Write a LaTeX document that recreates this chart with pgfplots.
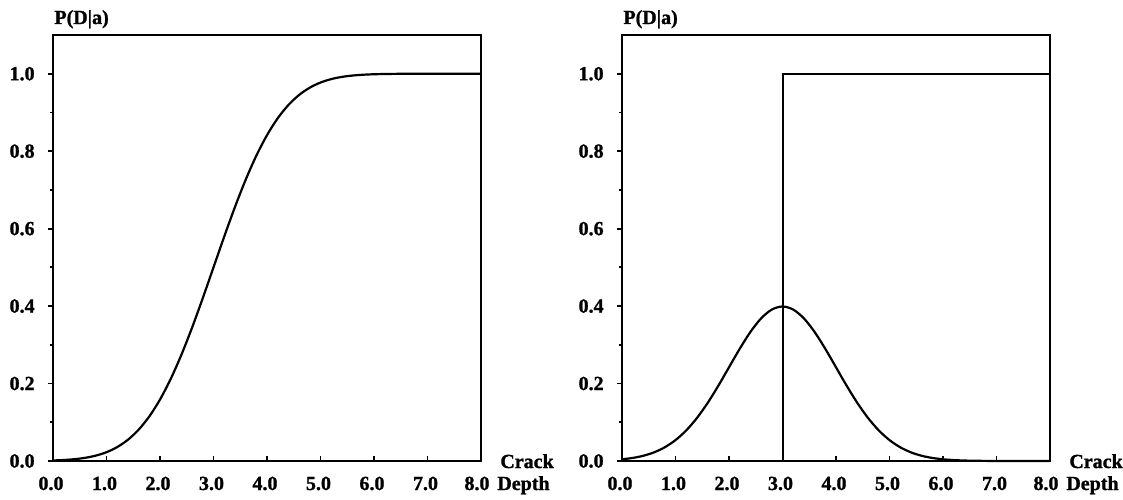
\documentclass[border=0pt]{standalone}
\usepackage{fontspec}
\setmainfont{Liberation Serif}[BoldFeatures={FakeBold=1.2}]
\usepackage{pgfplots}
\pgfplotsset{compat=1.18}

\pgfplotstableread{
x y
0.0 0.00135
0.2 0.00256
0.4 0.00466
0.6 0.00820
0.8 0.01390
1.0 0.02275
1.2 0.03593
1.4 0.05480
1.6 0.08076
1.8 0.11507
2.0 0.15866
2.2 0.21186
2.4 0.27425
2.6 0.34458
2.8 0.42074
3.0 0.50000
3.2 0.57926
3.4 0.65542
3.6 0.72575
3.8 0.78814
4.0 0.84134
4.2 0.88493
4.4 0.91924
4.6 0.94520
4.8 0.96407
5.0 0.97725
5.2 0.98610
5.4 0.99180
5.6 0.99534
5.8 0.99744
6.0 0.99865
6.2 0.99931
6.4 0.99966
6.6 0.99984
6.8 0.99993
7.0 0.99997
7.5 1.00000
8.0 1.00000
}\cdftable

\pgfplotstableread{
x y
0.0 0.00443
0.2 0.00792
0.4 0.01358
0.6 0.02239
0.8 0.03547
1.0 0.05399
1.2 0.07895
1.4 0.11092
1.6 0.14973
1.8 0.19419
2.0 0.24197
2.2 0.28969
2.4 0.33322
2.6 0.36827
2.8 0.39104
3.0 0.39894
3.2 0.39104
3.4 0.36827
3.6 0.33322
3.8 0.28969
4.0 0.24197
4.2 0.19419
4.4 0.14973
4.6 0.11092
4.8 0.07895
5.0 0.05399
5.2 0.03547
5.4 0.02239
5.6 0.01358
5.8 0.00792
6.0 0.00443
6.2 0.00238
6.4 0.00123
6.6 0.00061
6.8 0.00029
7.0 0.00013
7.5 0.00002
8.0 0.00000
}\pdftable

\pgfplotstableread{
x y
3.0 0.0
3.0 1.0
8.0 1.0
8.0 0.0
}\steptable

\newcommand\lblfont{\fontsize{10}{12}\selectfont\bfseries}

\pgfplotsset{
  panel/.style={
    scale only axis,
    width=214pt, height=213pt,
    anchor=south west,
    xmin=0, xmax=8, ymin=0, ymax=1.1,
    axis line style={line width=1.2pt},
    xtick={0,1,...,7},
    xticklabels={0.0,1.0,2.0,3.0,4.0,5.0,6.0,7.0},
    extra x ticks={8},
    extra x tick labels={8.0},
    extra x tick style={xticklabel style={xshift=-1pt}},
    ytick={0,0.2,0.4,0.6,0.8,1.0},
    yticklabels={0.0,0.2,0.4,0.6,0.8,1.0},
    minor y tick num=1,
    xtick pos=bottom, ytick pos=left,
    tick align=inside,
    major tick length=2.5pt,
    minor tick length=1.5pt,
    every major y tick/.append style={xshift=-2.5pt},
    every minor y tick/.append style={xshift=-1.5pt},
    tick style={line width=0.9pt, black},
    ticklabel style={font=\lblfont, inner sep=0pt},
    xticklabel style={anchor=base, yshift=-14.5pt, xshift=-1pt},
    yticklabel style={anchor=east, xshift=-9pt},
    clip=false,
  }
}

\begin{document}
\begin{tikzpicture}
\begin{axis}[panel, at={(26.5pt,19pt)}]
\addplot[black, line width=1.1pt, smooth, tension=0.5] table[x=x,y=y] {\cdftable};
\node[anchor=base west, inner sep=0pt, font=\lblfont] at (rel axis cs:0,1) [yshift=5.5pt, xshift=0.5pt] {P(D|a)};
\node[anchor=base west, inner sep=0pt, font=\lblfont] at (rel axis cs:1,0) [xshift=9.5pt, yshift=-3.5pt] {Crack};
\node[anchor=base west, inner sep=0pt, font=\lblfont] at (rel axis cs:1,0) [xshift=8pt, yshift=-14.5pt] {Depth};
\end{axis}
\begin{axis}[panel, at={(311pt,19pt)}]
\addplot[black, line width=1.1pt, smooth, tension=0.5] table[x=x,y=y] {\pdftable};
\addplot[black, line width=1pt] table[x=x,y=y] {\steptable};
\node[anchor=base west, inner sep=0pt, font=\lblfont] at (rel axis cs:0,1) [yshift=5.5pt, xshift=0.5pt] {P(D|a)};
\node[anchor=base west, inner sep=0pt, font=\lblfont] at (rel axis cs:1,0) [xshift=9.5pt, yshift=-3.5pt] {Crack};
\node[anchor=base west, inner sep=0pt, font=\lblfont] at (rel axis cs:1,0) [xshift=8pt, yshift=-14.5pt] {Depth};
\end{axis}
\pgfresetboundingbox
\useasboundingbox (0,0) rectangle (561.5pt,249.5pt);
\end{tikzpicture}
\end{document}
